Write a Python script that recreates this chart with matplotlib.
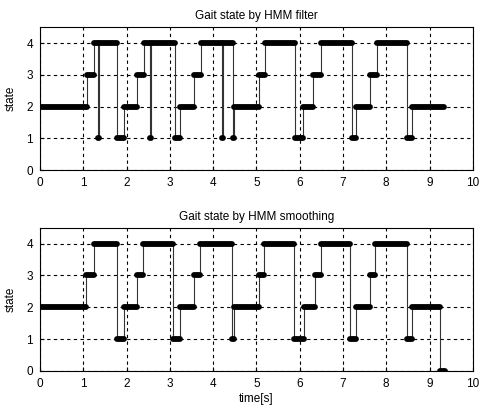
import matplotlib
matplotlib.use("Agg")
import matplotlib.pyplot as plt

# ---- data: segments as (start time, end time, state) ----
filter_starts = [0.00, 1.08, 1.25, 1.35, 1.37, 1.78, 1.95, 2.25, 2.41, 2.55, 2.57, 3.11, 3.23, 3.56, 3.73,
                 4.21, 4.23, 4.46, 4.48, 5.06, 5.20, 5.89, 6.08, 6.31, 6.50, 7.22, 7.31, 7.62, 7.78, 8.48, 8.60]
filter_ends = [1.08, 1.25, 1.35, 1.37, 1.78, 1.95, 2.25, 2.41, 2.55, 2.57, 3.11, 3.23, 3.56, 3.73, 4.21,
               4.23, 4.46, 4.48, 5.06, 5.20, 5.89, 6.08, 6.31, 6.50, 7.22, 7.31, 7.62, 7.78, 8.48, 8.60, 9.33]
filter_states = [2, 3, 4, 1, 4, 1, 2, 3, 4, 1, 4, 1, 2, 3, 4,
                 1, 4, 1, 2, 3, 4, 1, 2, 3, 4, 1, 2, 3, 4, 1, 2]

smooth_starts = [0.00, 1.06, 1.25, 1.78, 1.95, 2.25, 2.39, 3.08, 3.23, 3.57, 3.70, 4.44, 4.48, 5.07, 5.17,
                 5.87, 6.09, 6.35, 6.50, 7.17, 7.31, 7.62, 7.74, 8.47, 8.60, 9.25]
smooth_ends = [1.06, 1.25, 1.78, 1.95, 2.25, 2.39, 3.08, 3.23, 3.57, 3.70, 4.44, 4.48, 5.07, 5.17, 5.87,
               6.09, 6.35, 6.50, 7.17, 7.31, 7.62, 7.74, 8.47, 8.60, 9.25, 9.35]
smooth_states = [2, 3, 4, 1, 2, 3, 4, 1, 2, 3, 4, 1, 2, 3, 4,
                 1, 2, 3, 4, 1, 2, 3, 4, 1, 2, 0]

titles = ["Gait state by HMM filter", "Gait state by HMM smoothing"]
xticks = [0, 1, 2, 3, 4, 5, 6, 7, 8, 9, 10]
yticks = [0, 1, 2, 3, 4]

plt.rcParams['font.family'] = ['Liberation Sans', 'DejaVu Sans']

fig = plt.figure(figsize=(4.81, 4.12), dpi=100)
ax1 = fig.add_axes([0.083, 0.587, 0.900, 0.347])
ax2 = fig.add_axes([0.083, 0.100, 0.900, 0.347])


def draw(ax, starts, ends, states, title):
    # thin step line
    xs, ys = [], []
    for s, e, v in zip(starts, ends, states):
        xs += [s, e]
        ys += [v, v]
    ax.plot(xs, ys, color='#333333', lw=0.8, zorder=3)
    # thick segments
    for s, e, v in zip(starts, ends, states):
        ax.plot([s, e], [v, v], color='black', lw=4.2, solid_capstyle='round', zorder=4)
    ax.set_xlim(0, 10)
    ax.set_ylim(0, 4.5)
    ax.set_xticks(xticks)
    ax.set_yticks(yticks)
    ax.grid(True, color='black', linestyle=(0, (3, 3)), lw=0.8)
    ax.tick_params(direction='in', length=3, labelsize=8.5, pad=5)
    ax.set_ylabel('state', fontsize=8.5, labelpad=7)
    ax.set_title(title, fontsize=8.5, pad=6)
    for sp in ax.spines.values():
        sp.set_linewidth(0.8)


draw(ax1, filter_starts, filter_ends, filter_states, titles[0])
draw(ax2, smooth_starts, smooth_ends, smooth_states, titles[1])
ax2.set_xlabel('time[s]', fontsize=8.5, labelpad=2)

fig.savefig('out.png', dpi=100)
